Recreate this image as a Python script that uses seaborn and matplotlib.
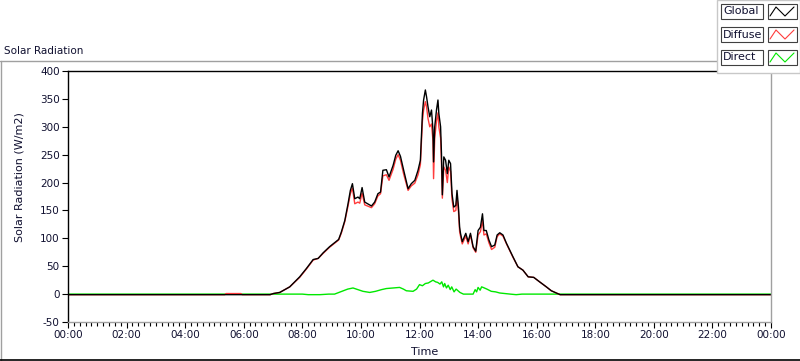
import matplotlib
matplotlib.use("Agg")
import matplotlib.pyplot as plt
import seaborn as sns
import pandas as pd
from matplotlib.lines import Line2D
from matplotlib.patches import Rectangle
from matplotlib.ticker import MultipleLocator

# Values (time in hours of the day, W/m2).
global_time = [0, 5.0, 6.9, 7.01, 7.23, 7.57, 7.91, 8.14, 8.37, 8.54, 8.71, 8.93, 9.24, 9.33,
               9.45, 9.56, 9.64, 9.71, 9.79, 9.90, 9.96, 10.04, 10.13, 10.36, 10.47, 10.58,
               10.67, 10.75, 10.87, 10.96, 11.10, 11.19, 11.27, 11.35, 11.46, 11.61, 11.72,
               11.84, 11.95, 12.03, 12.10, 12.14, 12.20, 12.24, 12.29, 12.35, 12.41, 12.46,
               12.48, 12.52, 12.58, 12.63, 12.66, 12.72, 12.75, 12.78, 12.83, 12.89, 12.95,
               13.0, 13.06, 13.11, 13.17, 13.24, 13.28, 13.33, 13.37, 13.40, 13.46, 13.58,
               13.66, 13.74, 13.83, 13.92, 14.0, 14.08, 14.15, 14.2, 14.28, 14.37, 14.46,
               14.57, 14.65, 14.74, 14.85, 14.97, 15.08, 15.19, 15.36, 15.53, 15.71, 15.9,
               16.1, 16.33, 16.5, 16.67, 16.8, 24]
global_rad = [-1, -1, -1, 1, 3, 13, 31, 46, 62, 64, 74, 85, 98, 111,
              132, 162, 186, 198, 171, 174, 171, 191, 165, 158, 165, 180,
              183, 222, 223, 210, 231, 249, 257, 247, 222, 189, 198,
              204, 222, 240, 324, 348, 366, 354, 336, 318, 330, 294,
              237, 300, 330, 348, 324, 300, 252, 178, 246, 240, 216,
              240, 234, 180, 156, 159, 186, 156, 120, 109, 94, 109,
              94, 109, 85, 77, 114, 120, 144, 114, 114, 97, 85,
              88, 106, 110, 106, 91, 79, 67, 49, 43, 31, 30,
              22, 13, 6, 2, -1, -1]

diffuse_time = [0, 5.35, 5.4, 5.9, 5.95, 6.9, 7.01, 7.23, 7.57, 7.91, 8.14, 8.37, 8.54, 8.71,
                8.93, 9.24, 9.33, 9.45, 9.56, 9.64, 9.71, 9.79, 9.90, 9.96, 10.04, 10.13,
                10.36, 10.47, 10.58, 10.67, 10.75, 10.87, 10.96, 11.10, 11.19, 11.27, 11.35,
                11.46, 11.61, 11.72, 11.84, 11.95, 12.03, 12.10, 12.14, 12.20, 12.24, 12.29,
                12.35, 12.41, 12.46, 12.48, 12.52, 12.58, 12.63, 12.66, 12.72, 12.75, 12.78,
                12.83, 12.89, 12.95, 13.0, 13.06, 13.11, 13.17, 13.24, 13.28, 13.33, 13.37,
                13.40, 13.46, 13.58, 13.66, 13.74, 13.83, 13.92, 14.0, 14.08, 14.15, 14.2,
                14.28, 14.37, 14.46, 14.57, 14.65, 14.74, 14.85, 14.97, 15.08, 15.19, 15.36,
                15.53, 15.71, 15.9, 16.1, 16.33, 16.5, 16.67, 16.8, 24]
diffuse_rad = [-1, -1, 1, 1, -1, -1, 1, 3, 13, 30, 45, 61, 64, 73,
               84, 97, 109, 130, 158, 180, 190, 162, 165, 163, 181, 160,
               155, 162, 176, 180, 212, 214, 204, 224, 242, 250, 240,
               215, 186, 194, 199, 214, 232, 310, 330, 345, 336, 315,
               300, 305, 275, 207, 280, 310, 325, 300, 280, 235, 172,
               228, 222, 200, 228, 220, 170, 148, 150, 175, 148, 112,
               104, 90, 104, 90, 106, 83, 75, 106, 112, 132, 106,
               108, 92, 80, 84, 103, 108, 104, 90, 78, 66, 49,
               43, 31, 30, 22, 13, 6, 2, -1, -1]

direct_time = [0, 7.0, 8.0, 8.2, 8.6, 8.9, 9.1, 9.35, 9.55, 9.73, 9.9, 10.07, 10.3, 10.5,
               10.7, 10.87, 11.1, 11.32, 11.45, 11.55, 11.78, 11.9, 12.0, 12.1, 12.2, 12.3,
               12.46, 12.55, 12.62, 12.7, 12.76, 12.82, 12.86, 12.92, 12.98, 13.05, 13.1,
               13.18, 13.25, 13.38, 13.5, 13.83, 13.9, 13.95, 14.0, 14.07, 14.12, 14.17,
               14.3, 14.45, 14.6, 14.74, 15.1, 15.3, 15.5, 24]
direct_rad = [0, 0, 0, -1, -1, 0, 0, 5, 9, 11, 8, 5, 3, 5,
              8, 10, 11, 12, 9, 6, 5, 9, 17, 15, 19, 20,
              25, 22, 21, 18, 22, 13, 19, 11, 16, 8, 13,
              4, 9, 3, 0, 0, 8, 4, 12, 7, 13, 12,
              9, 5, 4, 2, 0, -1, 0, 0]

series_names = ["Global", "Diffuse", "Direct"]
series_colors = ["#000000", "#ff3c3c", "#00e800"]
hour_ticks = list(range(0, 25, 2))
hour_labels = ["00:00", "02:00", "04:00", "06:00", "08:00", "10:00", "12:00",
               "14:00", "16:00", "18:00", "20:00", "22:00", "00:00"]
rad_ticks = [-50, 0, 50, 100, 150, 200, 250, 300, 350, 400]

sns.set_style("white")
plt.rcParams["font.family"] = ["DejaVu Sans"]
plt.rcParams["font.size"] = 7.5
plt.rcParams["axes.unicode_minus"] = False

fig = plt.figure(figsize=(8, 3.61), dpi=100)
ax = fig.add_axes([68 / 800, 1 - 322 / 361, 703 / 800, 251 / 361])

sns.lineplot(x=direct_time, y=direct_rad, color=series_colors[2], lw=1, ax=ax, sort=False)
sns.lineplot(x=diffuse_time, y=diffuse_rad, color=series_colors[1], lw=1, ax=ax, sort=False)
sns.lineplot(x=global_time, y=global_rad, color=series_colors[0], lw=1, ax=ax, sort=False)

ax.set_xlim(0, 24)
ax.set_ylim(-50, 400)
ax.set_xticks(hour_ticks)
ax.set_xticklabels(hour_labels)
ax.xaxis.set_minor_locator(MultipleLocator(0.2))
ax.set_yticks(rad_ticks)
ax.tick_params(axis="both", which="major", direction="out", length=4, width=0.8,
               color="black", labelcolor="#101030", labelsize=7.5, pad=2)
ax.tick_params(axis="x", which="minor", direction="out", length=3, width=0.8, color="black")
ax.tick_params(axis="x", which="both", bottom=True)
ax.tick_params(axis="y", left=True)

ax.spines["left"].set_color("black")
ax.spines["top"].set_color("black")
ax.spines["right"].set_color("#a0a0a0")
ax.spines["bottom"].set_color("#a0a0a0")
for s in ax.spines.values():
    s.set_linewidth(1)

ax.set_xlabel("Time", fontsize=8, color="#101030")
ax.set_ylabel("Solar Radiation (W/m2)", fontsize=8, color="#101030")
ax.xaxis.set_label_coords((425 - 68) / 703, (322 - 347) / 251)
ax.yaxis.set_label_coords((25 - 68) / 703, (322 - 177) / 251)

# outer panel frame
fig.add_artist(Line2D([0.5 / 800, 0.5 / 800], [0, 1 - 61 / 361], color="#a0a0a0", lw=1))
fig.add_artist(Line2D([0, 1], [1 - 61 / 361, 1 - 61 / 361], color="#a0a0a0", lw=1))
fig.add_artist(Line2D([0, 1], [1 - 360 / 361, 1 - 360 / 361], color="black", lw=1.2))
fig.text(4 / 800, 1 - 51 / 361, "Solar Radiation", fontsize=7.5, va="center", ha="left",
         color="#101030")

# legend panel
fig.add_artist(Rectangle((717 / 800, 1 - 73 / 361), 83 / 800, 73 / 361, transform=fig.transFigure,
                         facecolor="white", edgecolor="#c8c8c8", lw=1, zorder=5))
row_tops = [4, 27, 50]
for name, col, top in zip(series_names, series_colors, row_tops):
    y0 = 1 - (top + 15) / 361
    h = 15 / 361
    fig.add_artist(Rectangle((721 / 800, y0), 42 / 800, h, transform=fig.transFigure,
                             facecolor="white", edgecolor="#404040", lw=0.8, zorder=6))
    fig.add_artist(Rectangle((768 / 800, y0), 29 / 800, h, transform=fig.transFigure,
                             facecolor="white", edgecolor="#404040", lw=0.8, zorder=6))
    zx = [770 / 800, 776 / 800, 785 / 800, 794 / 800]
    zy = [1 - (top + 12) / 361, 1 - (top + 3) / 361, 1 - (top + 12) / 361, 1 - (top + 3) / 361]
    fig.add_artist(Line2D(zx, zy, color=col, lw=0.8, zorder=7))
    fig.text(723 / 800, 1 - (top + 7.5) / 361, name, fontsize=8, va="center", ha="left",
             color="#101030", zorder=7)

fig.savefig("out.png", dpi=100)
